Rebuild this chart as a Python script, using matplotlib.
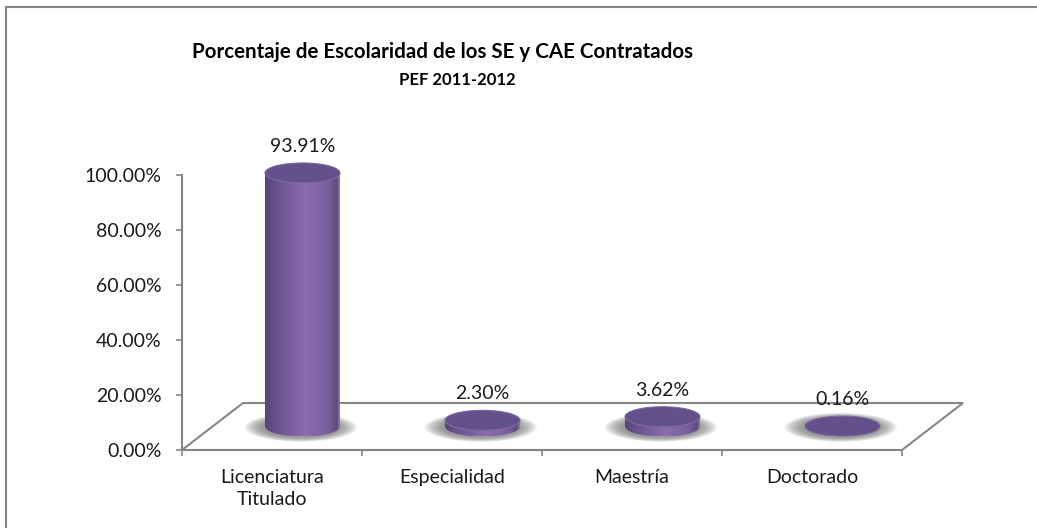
import numpy as np
import matplotlib.pyplot as plt
from matplotlib.patches import Ellipse, Polygon, PathPatch, Rectangle
from matplotlib.path import Path
from matplotlib.colors import LinearSegmentedColormap

# Datos de la grafica
categories = ['Licenciatura\nTitulado', 'Especialidad', 'Maestría', 'Doctorado']
values = [93.91, 2.30, 3.62, 0.16]
value_labels = ['93.91%', '2.30%', '3.62%', '0.16%']
yticks = [0, 20, 40, 60, 80, 100]
ytick_labels = ['0.00%', '20.00%', '40.00%', '60.00%', '80.00%', '100.00%']
title = 'Porcentaje de Escolaridad de los SE y CAE Contratados'
subtitle = 'PEF 2011-2012'

plt.rcParams['font.family'] = ['Lato', 'DejaVu Sans']

W, H = 1037, 528
fig = plt.figure(figsize=(W / 100, H / 100), dpi=100)
ppp = 2.755  # pixeles por punto porcentual
ax = fig.add_axes([182 / W, (H - 450) / H, 720 / W, 110 * ppp / H])

gray = '#868686'
# profundidad del piso 3D (en unidades de datos)
DX = 61 / 180
DY = 47 / ppp

# piso
floor = Polygon([(0, 0), (4, 0), (4 + DX, DY), (DX, DY)], closed=True,
                facecolor='white', edgecolor=gray, lw=1.5, zorder=1, clip_on=False)
ax.add_patch(floor)

cyl_cmap = LinearSegmentedColormap.from_list('cyl', [
    (0.0, '#574473'), (0.15, '#6a5290'), (0.55, '#8b6db0'),
    (0.85, '#7a5f9f'), (0.96, '#5e4a7f'), (1.0, '#8f7cae')])
grad = np.linspace(0, 1, 256).reshape(1, -1)

cw = 75 / 180        # ancho del cilindro
eh = 20 / ppp        # alto de la elipse
base = DY / 2
k = 0.98

for i, (v, lab) in enumerate(zip(values, value_labels)):
    cx = i + 0.5 + DX / 2
    top = base + v * k
    a = cw / 2
    e = eh / 2

    # sombra difusa
    for j in range(14):
        f = 1 - j / 14
        ax.add_patch(Ellipse((cx - 0.01, base - 0.3), cw * (1.0 + 0.5 * f), eh * (1.0 + 0.45 * f),
                             facecolor='#6e6e6e', edgecolor='none', alpha=0.075,
                             zorder=2, clip_on=False))

    # cuerpo
    t = np.linspace(np.pi, 2 * np.pi, 60)
    xs = np.concatenate([[cx - a], cx + a * np.cos(t), [cx + a]])
    ys = np.concatenate([[top], base + e * np.sin(t), [top]])
    body = PathPatch(Path(np.column_stack([xs, ys])), facecolor='none',
                     edgecolor='none', zorder=3)
    ax.add_patch(body)
    im = ax.imshow(grad, cmap=cyl_cmap, extent=[cx - a, cx + a, base - e, top],
                   aspect='auto', origin='lower', interpolation='bilinear', zorder=3)
    im.set_clip_path(body)

    # tapa
    ax.add_patch(Ellipse((cx, top), cw, eh, facecolor='#64508a',
                         edgecolor='#7d68a0', lw=0.8, zorder=4))

    ax.text(cx, top + e + 6.0, lab, ha='center', va='center', fontsize=14,
            color='#1a1a1a', zorder=5)

ax.set_xlim(0, 4)
ax.set_ylim(0, 110)
for s in ['top', 'right']:
    ax.spines[s].set_visible(False)
ax.spines['left'].set_bounds(0, 100)
ax.spines['bottom'].set_visible(False)
ax.spines['left'].set_color(gray)
ax.spines['left'].set_linewidth(1.5)
ax.set_facecolor('none')

ax.set_yticks(yticks)
ax.set_yticklabels(ytick_labels)
ax.set_xticks([0, 1, 2, 3, 4])
ax.set_xticklabels([])
ax.set_xticks([0.5, 1.5, 2.5, 3.5], minor=True)
ax.set_xticklabels(categories, minor=True, linespacing=1.3)
ax.tick_params(axis='y', length=4.5, width=1.2, color=gray, pad=10, labelsize=14,
               labelcolor='#1a1a1a')
ax.tick_params(axis='x', which='major', length=4.5, width=1.2, color=gray, direction='out')
ax.tick_params(axis='x', which='minor', length=0, pad=14, labelsize=14,
               labelcolor='#1a1a1a')

fig.text(443 / W, 1 - 52 / H, title, ha='center', va='center', fontsize=14.8,
         fontweight='bold', color='black')
fig.text(457 / W, 1 - 80 / H, subtitle, ha='center', va='center', fontsize=12,
         fontweight='bold', color='black')

# borde exterior
fig.add_artist(Rectangle((6 / W, -0.1), 1.2, 1 - 6.5 / H + 0.1, transform=fig.transFigure,
                         fill=False, edgecolor=gray, lw=1.5))

fig.savefig('out.png', dpi=100)
